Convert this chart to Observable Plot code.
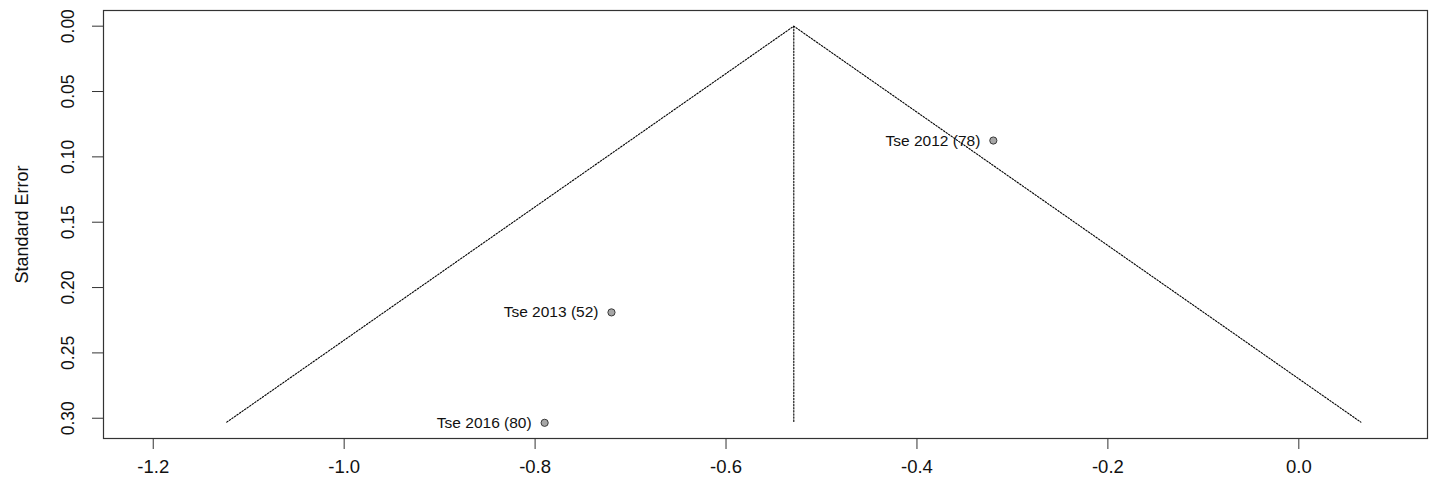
<!DOCTYPE html>
<html>
<head>
<meta charset="utf-8">
<script src="https://cdn.jsdelivr.net/npm/d3@7"></script>
<script src="https://cdn.jsdelivr.net/npm/@observablehq/plot@0.6"></script>
<style>
  html, body { margin: 0; padding: 0; background: #fff; }
  #chart svg { display: block; font-family: "Liberation Sans", Arial, sans-serif; }
</style>
</head>
<body>
<div id="chart"></div>
<script>
// Study data
const studyLabels = ["Tse 2012 (78)", "Tse 2013 (52)", "Tse 2016 (80)"];
const studyEstimates = [-0.320, -0.720, -0.790];
const studySE = [0.0875, 0.219, 0.3035];

// Funnel vertices (left base, apex, right base) and centre line
const funnelX = [-1.123, -0.529, 0.065];
const funnelY = [0.303, 0.0, 0.303];
const centreX = [-0.529, -0.529];
const centreY = [0.0, 0.303];

// Axis ticks
const xTicks = [-1.2, -1.0, -0.8, -0.6, -0.4, -0.2, 0.0];
const yTicks = [0.00, 0.05, 0.10, 0.15, 0.20, 0.25, 0.30];
const yTitle = "Standard Error";

const studies = studyLabels.map((label, i) => ({label, x: studyEstimates[i], se: studySE[i]}));
const funnel = funnelX.map((x, i) => ({x, y: funnelY[i]}));
const centre = centreX.map((x, i) => ({x, y: centreY[i]}));

const chart = Plot.plot({
  width: 1429,
  height: 490,
  marginLeft: 103,
  marginRight: 2,
  marginTop: 10,
  marginBottom: 52,
  style: {fontFamily: "'Liberation Sans', Arial, sans-serif", color: "#111", background: "#fff"},
  x: {domain: [-1.2521, 0.1348]},
  y: {domain: [-0.0120, 0.3155], reverse: true},
  marks: [
    Plot.line(funnel, {x: "x", y: "y", stroke: "#000", strokeWidth: 1.1, strokeDasharray: "1.5,1.6"}),
    Plot.line(centre, {x: "x", y: "y", stroke: "#000", strokeWidth: 1.1, strokeDasharray: "1.5,1.6"}),
    Plot.dot(studies, {x: "x", y: "se", r: 3.6, fill: "#a6a6a6", stroke: "#3a3a3a", strokeWidth: 1}),
    Plot.text(studies, {x: "x", y: "se", text: "label", textAnchor: "end", dx: -13, fontSize: 15.5, fill: "#111"}),
    Plot.frame({stroke: "#333", strokeWidth: 1.2}),
    Plot.axisX({ticks: xTicks, tickSize: 11, tickPadding: 10, fontSize: 18.5, tickFormat: d => d.toFixed(1), label: null, stroke: "#333"}),
    Plot.axisY({ticks: yTicks, tickSize: 11, label: null, text: null, stroke: "#333", tickFormat: () => ""}),
    Plot.text(yTicks, {y: d => d, frameAnchor: "left", dx: -35, rotate: -90, text: d => d.toFixed(2), fontSize: 17.5, fill: "#111", textAnchor: "middle"}),
    Plot.text([yTitle], {frameAnchor: "left", dx: -81, rotate: -90, text: d => d, fontSize: 18, fill: "#111", textAnchor: "middle"})
  ]
});
document.getElementById("chart").appendChild(chart);
</script>
</body>
</html>
